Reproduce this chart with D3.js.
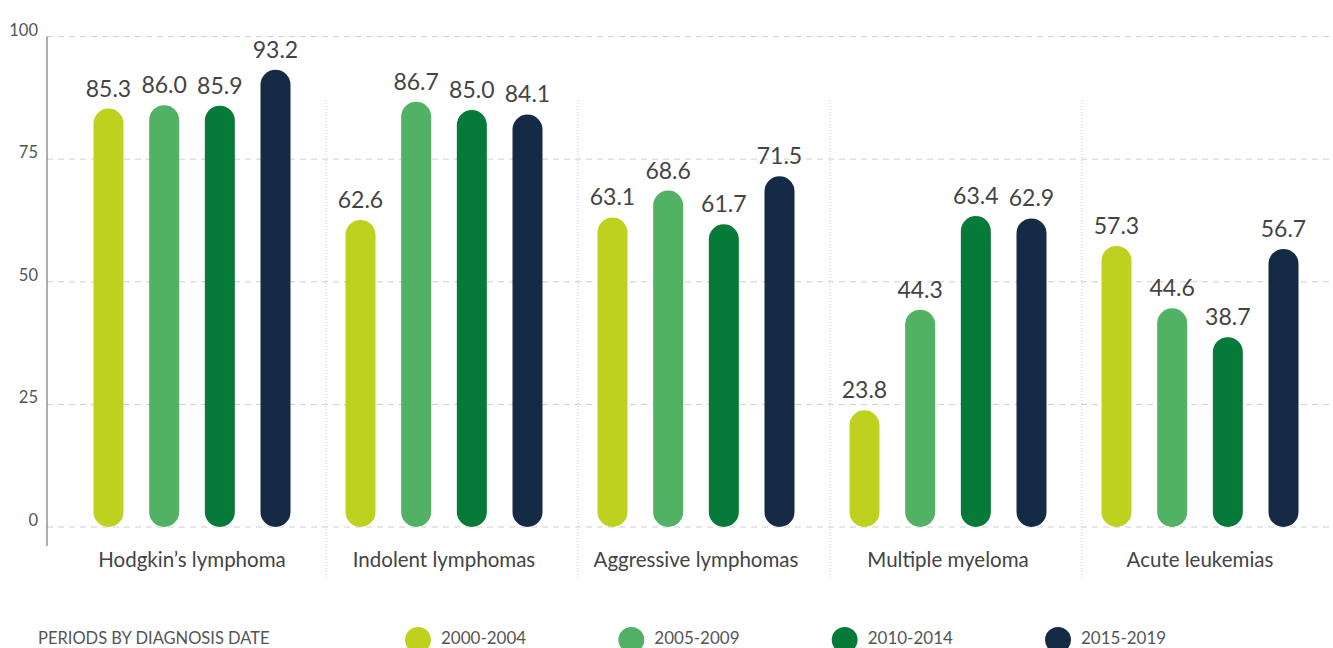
<!DOCTYPE html>
<html>
<head>
<meta charset="utf-8">
<script src="https://cdn.jsdelivr.net/npm/d3@7"></script>
<style>
  html, body { margin: 0; padding: 0; background: #fff; }
  svg { display: block; font-family: Lato, "Open Sans", sans-serif; }
</style>
</head>
<body>
<svg id="chart" width="1333" height="648"></svg>
<script>
// Five-year survival by diagnosis period, per disease group
const categories = ["Hodgkin’s lymphoma", "Indolent lymphomas", "Aggressive lymphomas", "Multiple myeloma", "Acute leukemias"];
const periods = ["2000-2004", "2005-2009", "2010-2014", "2015-2019"];
const values2000 = [85.3, 62.6, 63.1, 23.8, 57.3];
const values2005 = [86.0, 86.7, 68.6, 44.3, 44.6];
const values2010 = [85.9, 85.0, 61.7, 63.4, 38.7];
const values2015 = [93.2, 84.1, 71.5, 62.9, 56.7];
const yTicks = [0, 25, 50, 75, 100];
const periodColors = ["#bed11e", "#52b264", "#067a38", "#152a45"];

const seriesValues = [values2000, values2005, values2010, values2015];

const svg = d3.select("#chart");
const axisX = 47, plotRight = 1333;

const y = d3.scaleLinear().domain([0, 100]).range([527, 36.5]);
const x = d3.scaleBand().domain(categories).range([66, 1326]);
const xs = d3.scalePoint().domain(periods).range([-83.5, 83.5]);
const color = d3.scaleOrdinal().domain(periods).range(periodColors);
const barW = 30;

// horizontal dashed gridlines
svg.append("g")
  .selectAll("line")
  .data(yTicks)
  .join("line")
  .attr("x1", axisX).attr("x2", plotRight)
  .attr("y1", d => y(d)).attr("y2", d => y(d))
  .attr("stroke", "#cfcfcf").attr("stroke-width", 1)
  .attr("stroke-dasharray", "6,5");

// y tick labels
svg.append("g")
  .selectAll("text")
  .data(yTicks)
  .join("text")
  .attr("x", 38).attr("y", d => y(d) - 1)
  .attr("text-anchor", "end")
  .attr("font-size", 16.5).attr("fill", "#555")
  .text(d => d);

// y axis line
svg.append("line")
  .attr("x1", axisX).attr("x2", axisX)
  .attr("y1", y(100)).attr("y2", 546)
  .attr("stroke", "#777").attr("stroke-width", 1.2);

// dotted separators between groups
svg.append("g")
  .selectAll("line")
  .data(categories.slice(1))
  .join("line")
  .attr("x1", d => x(d) + 8)
  .attr("x2", d => x(d) + 8)
  .attr("y1", 100).attr("y2", 580)
  .attr("stroke", "#c8c8c8").attr("stroke-width", 1)
  .attr("stroke-dasharray", "1,2");

// bars with fully rounded ends
const bars = [];
categories.forEach((c, ci) => {
  periods.forEach((p, pi) => {
    bars.push({ cat: c, period: p, value: seriesValues[pi][ci] });
  });
});

const cx = d => x(d.cat) + x.bandwidth() / 2 + xs(d.period);

svg.append("g")
  .selectAll("rect")
  .data(bars)
  .join("rect")
  .attr("x", d => cx(d) - barW / 2)
  .attr("y", d => y(d.value))
  .attr("width", barW)
  .attr("height", d => y(0) - y(d.value))
  .attr("rx", barW / 2).attr("ry", barW / 2)
  .attr("fill", d => color(d.period));

// value labels
svg.append("g")
  .selectAll("text")
  .data(bars)
  .join("text")
  .attr("x", d => cx(d))
  .attr("y", d => y(d.value) - 12)
  .attr("text-anchor", "middle")
  .attr("font-size", 23).attr("fill", "#444")
  .text(d => d.value.toFixed(1));

// category labels
svg.append("g")
  .selectAll("text")
  .data(categories)
  .join("text")
  .attr("x", d => x(d) + x.bandwidth() / 2)
  .attr("y", 567)
  .attr("text-anchor", "middle")
  .attr("font-size", 20.5).attr("fill", "#444")
  .text(d => d);

// legend
svg.append("text")
  .attr("x", 38).attr("y", 644)
  .attr("font-size", 16.5).attr("fill", "#555")
  .text("PERIODS BY DIAGNOSIS DATE");

const legendX = d3.scalePoint().domain(periods).range([418, 1058]);
const lg = svg.append("g")
  .selectAll("g")
  .data(periods)
  .join("g")
  .attr("transform", d => `translate(${legendX(d)},640)`);
lg.append("circle").attr("r", 13).attr("fill", d => color(d));
lg.append("text")
  .attr("x", 23).attr("y", 4)
  .attr("font-size", 17).attr("fill", "#555")
  .text(d => d);
</script>
</body>
</html>
